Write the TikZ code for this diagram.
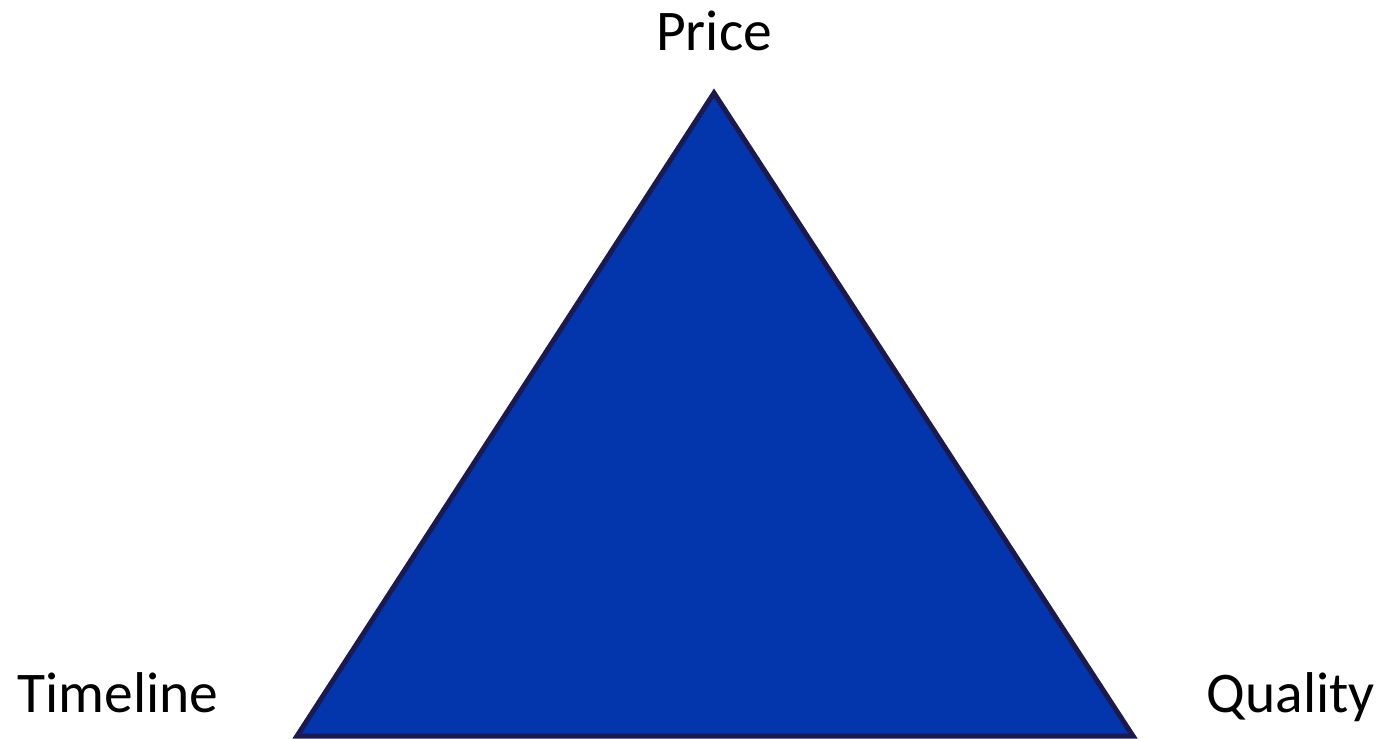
\documentclass[tikz,border=0pt]{standalone}
\usepackage{fontspec}
\setmainfont{Carlito}
\definecolor{trifill}{HTML}{0335AD}
\definecolor{triline}{HTML}{1A1A50}
\begin{document}
\begin{tikzpicture}[x=1pt,y=-1pt,
  lbl/.style={font=\fontsize{57.5}{66}\selectfont, text=black, inner sep=0pt, anchor=base}]
\useasboundingbox (0,0) rectangle (1382,739);
\coordinate (top) at (714,93);
\coordinate (bl) at (297,736);
\coordinate (br) at (1133,736);
\filldraw[fill=trifill, draw=triline, line width=5pt, line join=miter] (top) -- (br) -- (bl) -- cycle;
\node[lbl] (price) at (714,50) {Price};
\node[lbl] (timeline) at (118,712) {Timeline};
\node[lbl] (quality) at (1291,712) {Quality};
\end{tikzpicture}
\end{document}
